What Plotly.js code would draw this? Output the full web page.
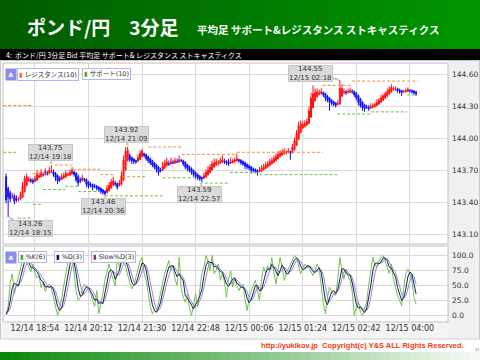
<!DOCTYPE html>
<html>
<head>
<meta charset="utf-8">
<script src="https://cdn.plot.ly/plotly-3.0.1.min.js"></script>
<style>html,body{margin:0;padding:0;background:#fff;}#chart{width:480px;height:360px;}</style>
</head>
<body>
<div id="chart"></div>
<script>
// ---------------- data ----------------
const barStart = '2009-12-14 18:12';   // first 3-minute bar
const barStepMinutes = 3;
const haOpenFirst = 143.64;

// Heikin-Ashi close of each bar
const haClose = [
143.42,143.45,143.43,143.46,143.41,143.42,143.43,143.47,143.55,143.62,
143.64,143.62,143.60,143.59,143.62,143.66,143.65,143.68,143.66,143.69,
143.67,143.70,143.69,143.66,143.63,143.60,143.61,143.64,143.65,143.67,
143.66,143.68,143.70,143.66,143.61,143.58,143.60,143.63,143.61,143.57,
143.55,143.56,143.54,143.55,143.53,143.52,143.50,143.49,143.48,143.53,
143.56,143.59,143.60,143.57,143.54,143.58,143.65,143.80,143.88,143.89,
143.80,143.79,143.78,143.78,143.82,143.86,143.88,143.84,143.81,143.79,
143.77,143.75,143.73,143.71,143.68,143.70,143.74,143.77,143.78,143.76,
143.78,143.77,143.79,143.78,143.80,143.79,143.76,143.73,143.72,143.70,
143.68,143.66,143.64,143.63,143.62,143.62,143.65,143.68,143.70,143.73,
143.76,143.77,143.78,143.77,143.79,143.80,143.78,143.77,143.76,143.78,
143.79,143.80,143.81,143.79,143.77,143.76,143.74,143.73,143.72,143.70,
143.70,143.69,143.68,143.70,143.72,143.73,143.75,143.76,143.78,143.79,
143.81,143.83,143.85,143.86,143.87,143.88,143.87,143.88,143.86,143.92,
143.98,144.05,144.12,144.14,144.13,144.14,144.16,144.26,144.38,144.42,
144.43,144.44,144.43,144.44,144.41,144.38,144.36,144.34,144.33,144.32,
144.31,144.33,144.47,144.47,144.44,144.43,144.44,144.45,144.44,144.41,
144.38,144.34,144.31,144.29,144.28,144.29,144.28,144.30,144.31,144.32,
144.34,144.36,144.38,144.40,144.42,144.44,144.46,144.48,144.47,144.47,
144.45,144.44,144.43,144.44,144.45,144.46,144.45,144.44,144.43,144.42];

// upper / lower wick length of each bar, in pips (0.01)
const upWick = [
3,2,2,3,2,3,2,3,4,3, 3,2,2,2,3,4,3,3,2,3, 2,3,6,2,1,1,2,3,3,3,
2,3,3,1,1,2,2,3,1,1, 1,2,1,2,1,1,1,1,1,3, 3,3,4,2,1,3,4,4,4,3,
2,1,1,1,3,3,2,1,1,1, 1,1,1,1,1,2,4,3,4,3, 4,3,3,3,4,2,1,1,1,1,
1,1,1,1,1,1,3,3,4,3, 3,4,3,3,3,4,2,1,3,4, 2,2,5,1,1,1,1,1,1,1,
1,1,1,3,3,3,3,3,3,3, 3,3,3,3,3,3,2,3,1,3, 3,3,4,3,3,3,3,4,5,8,
4,3,3,3,1,1,1,1,1,1, 1,3,8,4,3,2,3,3,2,1, 1,1,1,1,1,2,2,3,2,2,
3,2,3,2,2,3,3,3,2,2, 1,1,1,2,2,2,1,1,1,1];
const dnWick = [
3,19,3,3,3,2,2,1,1,1, 1,1,2,2,1,1,1,1,2,1, 2,1,1,2,3,3,2,1,1,1,
1,1,1,2,2,3,2,1,2,3, 2,2,3,2,2,2,2,2,2,1, 1,1,1,2,2,1,1,1,1,1,
2,3,2,2,1,1,1,2,2,2, 2,2,2,3,3,2,1,1,1,2, 1,1,1,1,1,1,2,2,3,2,
2,2,2,2,2,3,1,1,1,1, 1,1,1,2,1,1,2,2,2,1, 1,1,1,2,2,2,3,2,2,3,
2,2,3,1,1,1,1,1,1,1, 1,1,1,1,1,1,2,1,6,1, 1,1,1,1,1,1,1,1,1,1,
1,1,1,1,2,3,2,8,2,2, 2,1,1,1,2,2,1,1,2,2, 2,3,2,3,3,1,2,1,1,1,
1,1,1,1,1,1,1,1,1,2, 2,2,3,1,1,1,2,2,2,2];

// Stochastic %K(6)
const stochK = [
2,15,55,69,36,50,60,78,92,98, 88,80,72,85,70,62,66,46,55,40,
48,52,45,30,15,0,10,28,47,70, 88,95,99,70,40,25,30,45,52,46,
40,36,25,15,41,3,20,36,60,72, 85,70,60,49,96,80,92,99,80,65,
55,44,50,63,75,90,96,70,58,35, 15,3,8,5,22,40,55,70,80,91,
75,82,60,50,96,45,30,22,35,12, 0,20,36,14,45,69,80,99,90,74,
99,69,75,85,58,70,55,30,60,74, 47,63,50,41,48,52,25,8,30,41,
50,58,40,25,60,80,70,82,75,96, 70,52,75,96,80,58,70,78,85,92,
99,95,80,69,78,85,82,80,72,66, 75,85,77,50,20,3,30,47,40,36,
33,60,96,75,60,77,65,58,40,0, 15,22,5,0,10,22,50,75,96,85,
80,90,96,99,91,80,69,85,60,47, 33,25,16,45,69,77,70,58,30,19];

// support / resistance (10) levels
const resStart = ['2009-12-14 18:08','2009-12-14 18:51','2009-12-14 19:23','2009-12-14 19:49','2009-12-14 20:29','2009-12-14 21:01','2009-12-14 21:39','2009-12-14 22:28','2009-12-14 23:48','2009-12-15 01:53','2009-12-15 02:36'];
const resEnd   = ['2009-12-14 18:50','2009-12-14 19:14','2009-12-14 19:49','2009-12-14 20:29','2009-12-14 20:51','2009-12-14 21:37','2009-12-14 22:28','2009-12-14 23:48','2009-12-15 01:53','2009-12-15 02:34','2009-12-15 04:12'];
const resLevel = [144.31,143.67,143.75,143.71,143.66,143.64,143.92,143.85,143.87,144.50,144.54];
const supStart = ['2009-12-14 18:08','2009-12-14 18:29','2009-12-14 18:51','2009-12-14 19:06','2009-12-14 19:38','2009-12-14 19:57','2009-12-14 20:36','2009-12-14 22:00','2009-12-14 22:54','2009-12-14 23:38','2009-12-15 00:21','2009-12-15 02:14','2009-12-15 03:03','2009-12-15 03:56'];
const supEnd   = ['2009-12-14 18:29','2009-12-14 18:51','2009-12-14 19:06','2009-12-14 19:38','2009-12-14 19:57','2009-12-14 20:29','2009-12-14 22:00','2009-12-14 22:48','2009-12-14 23:38','2009-12-15 00:19','2009-12-15 02:14','2009-12-15 03:03','2009-12-15 03:56','2009-12-15 04:10'];
const supLevel = [143.87,143.25,143.38,143.52,143.55,143.50,143.46,143.63,143.58,143.68,143.66,144.23,144.25,144.41];

// high / low call-outs
const noteTimes  = ['2009-12-14 18:15','2009-12-14 19:18','2009-12-14 20:36','2009-12-14 21:09','2009-12-14 22:57','2009-12-15 02:18'];
const notePrices = [143.26,143.75,143.46,143.92,143.59,144.55];
const noteLabels = ['12/14 18:15','12/14 19:18','12/14 20:36','12/14 21:09','12/14 22:57','12/15 02:18'];

// axes
const timeTicks  = ['2009-12-14 18:54','2009-12-14 20:12','2009-12-14 21:30','2009-12-14 22:48','2009-12-15 00:06','2009-12-15 01:24','2009-12-15 02:42','2009-12-15 04:00'];
const timeLabels = ['12/14 18:54','12/14 20:12','12/14 21:30','12/14 22:48','12/15 00:06','12/15 01:24','12/15 02:42','12/15 04:00'];
const priceTicks = [143.10,143.40,143.70,144.00,144.30,144.60];
const stochTicks = [0,25,50,75,100];

// ---------------- build ----------------
const W = 480, H = 360;
const PX = x => x / W, PY = y => 1 - y / H;
const base = Date.parse(barStart.replace(' ', 'T') + ':00Z');
const barTime = i => new Date(base + i * barStepMinutes * 60000).toISOString().slice(0, 16).replace('T', ' ');

const times = haClose.map((_, i) => barTime(i));
const haOpen = [];
haClose.forEach((c, i) => { haOpen.push(i === 0 ? haOpenFirst : (haOpen[i-1] + haClose[i-1]) / 2); });
const haHigh = haClose.map((c, i) => Math.max(c, haOpen[i]) + upWick[i] / 100);
const haLow  = haClose.map((c, i) => Math.min(c, haOpen[i]) - dnWick[i] / 100);

const sma3 = a => a.map((v, i) => { const s = a.slice(Math.max(0, i-2), i+1); return s.reduce((p, q) => p + q, 0) / s.length; });
const stochD = sma3(stochK);
const stochSD = sma3(stochD);

function segments(st, en, lv) {
  const x = [], y = [];
  st.forEach((s, k) => { x.push(s, en[k], null); y.push(lv[k], lv[k], null); });
  return {x, y};
}
const res = segments(resStart, resEnd, resLevel);
const sup = segments(supStart, supEnd, supLevel);

const FONT = 'DejaVu Sans, Noto Sans CJK JP, sans-serif';
const JP = 'Noto Sans CJK JP, sans-serif';

const traces = [
  {type:'scatter', mode:'lines', x:res.x, y:res.y, xaxis:'x', yaxis:'y', line:{color:'#f58a3c', width:1, dash:'3px,2px'}, hoverinfo:'skip', connectgaps:false},
  {type:'scatter', mode:'lines', x:sup.x, y:sup.y, xaxis:'x', yaxis:'y', line:{color:'#6cbf4a', width:1, dash:'3px,2px'}, hoverinfo:'skip', connectgaps:false},
  {type:'candlestick', x:times, open:haOpen, high:haHigh, low:haLow, close:haClose, xaxis:'x', yaxis:'y',
   increasing:{line:{color:'#ff1010', width:1}, fillcolor:'#ff1010'},
   decreasing:{line:{color:'#1010ff', width:1}, fillcolor:'#1010ff'},
   whiskerwidth:0, hoverinfo:'skip'},
  {type:'scatter', mode:'lines', x:times, y:stochK, xaxis:'x2', yaxis:'y2', line:{color:'#72c24e', width:1}, hoverinfo:'skip'},
  {type:'scatter', mode:'lines', x:times, y:stochSD, xaxis:'x2', yaxis:'y2', line:{color:'#9a84d6', width:1}, hoverinfo:'skip'},
  {type:'scatter', mode:'lines', x:times, y:stochD, xaxis:'x2', yaxis:'y2', line:{color:'#1c1c5e', width:1}, hoverinfo:'skip'}
];

const shapes = [];
// header gradient
for (let k = 0; k < 48; k++) {
  const f = k / 47;
  const g = Math.round(92 + (150 - 92) * f);
  shapes.push({type:'rect', xref:'paper', yref:'paper', x0:PX(k*10), x1:PX(k*10+10.5), y0:PY(49), y1:PY(0), fillcolor:`rgb(0,${g},0)`, line:{width:0}, layer:'below'});
}
shapes.push({type:'rect', xref:'paper', yref:'paper', x0:0, x1:1, y0:PY(60), y1:PY(49), fillcolor:'#000', line:{width:0}, layer:'below'});
// chart frame and bands
shapes.push({type:'rect', xref:'paper', yref:'paper', x0:PX(0.5), x1:PX(479.5), y0:PY(339), y1:PY(60.5), fillcolor:'#ffffff', line:{color:'#c8c8c8', width:1}, layer:'below'});
shapes.push({type:'rect', xref:'paper', yref:'paper', x0:PX(448), x1:PX(479), y0:PY(338), y1:PY(61), fillcolor:'#f0f0f0', line:{width:0}, layer:'below'});
shapes.push({type:'rect', xref:'paper', yref:'paper', x0:PX(1), x1:PX(448), y0:PY(338), y1:PY(323), fillcolor:'#f4f4f4', line:{width:0}, layer:'below'});
shapes.push({type:'rect', xref:'paper', yref:'paper', x0:PX(3), x1:PX(448), y0:PY(244), y1:PY(63), fillcolor:'rgba(0,0,0,0)', line:{color:'#bdbdbd', width:1}, layer:'below'});
shapes.push({type:'rect', xref:'paper', yref:'paper', x0:PX(3), x1:PX(448), y0:PY(322), y1:PY(246), fillcolor:'rgba(0,0,0,0)', line:{color:'#bdbdbd', width:1}, layer:'below'});
// footer gradient bar
for (let k = 0; k < 48; k++) {
  const f = k / 47;
  const r = Math.round(10 + (245 - 10) * f), g = Math.round(135 + (250 - 135) * f), b = Math.round(10 + (245 - 10) * f);
  shapes.push({type:'rect', xref:'paper', yref:'paper', x0:PX(k*10), x1:PX(k*10+10.5), y0:PY(360), y1:PY(352), fillcolor:`rgb(${r},${g},${b})`, line:{width:0}, layer:'below'});
}

const ann = [];
const txt = (x, y, text, size, color, family, xanchor) => ann.push({xref:'paper', yref:'paper', x:PX(x), y:PY(y), text, showarrow:false, xanchor:xanchor||'left', yanchor:'middle', font:{size, color, family}});
txt(25, 27, '<b>ポンド/円　3分足</b>', 19, '#ffffff', JP);
txt(195, 29.5, '<b>平均足 サポート&amp;レジスタンス ストキャスティクス</b>', 10.5, '#ffffff', JP);
txt(4, 54.5, '4:\u00a0\u00a0ポンド/円 3分足 Bid 平均足 サポート&amp; レジスタンス ストキャスティクス', 7, '#ffffff', JP);
txt(259, 345.5, '<b>http://yukikov.jp\u00a0\u00a0Copyright(c) Y&amp;S ALL Rights Reserved.</b>', 7.5, '#ee3a0e', 'Liberation Sans, Arial, sans-serif');
txt(476.5, 350, '17', 3.5, '#333', FONT, 'center');

// legend chips
const chipA = y => ann.push({xref:'paper', yref:'paper', x:PX(11), y:PY(y), text:'<b>A</b>', showarrow:false, xanchor:'center', yanchor:'middle', width:8, height:9, bgcolor:'#8c8ce8', font:{size:6, color:'#fff', family:FONT}});
const chip = (x, y, color, label) => ann.push({xref:'paper', yref:'paper', x:PX(x), y:PY(y), text:`<span style="color:${color}">▮</span> ${label}`, showarrow:false, xanchor:'left', yanchor:'middle', bgcolor:'rgba(255,255,255,0.9)', bordercolor:'#b6b6e6', borderwidth:1, borderpad:1, font:{size:6.5, color:'#333', family:FONT}});
chipA(74.5);
chip(17, 74.5, '#f07020', 'レジスタンス(10)');
chip(82, 74.5, '#40a820', 'サポート(10)');
chipA(257);
chip(18, 257, '#40a820', '%K(6)');
chip(54, 257, '#000066', '%D(3)');
chip(91, 257, '#7a3460', 'Slow%D(3)');

// high / low call-outs
const noteAx = [22, -1, -1, -1, -2, -29];
const noteAy = [11, -13, 11, -12.5, 12.5, -7];
noteTimes.forEach((t, k) => ann.push({
  xref:'x', yref:'y', x:t, y:notePrices[k], text:notePrices[k].toFixed(2) + '<br>' + noteLabels[k],
  showarrow:true, arrowhead:0, arrowwidth:2, arrowcolor:'#c6c6c6', ax:noteAx[k], ay:noteAy[k], standoff:1,
  bgcolor:'#dadada', bordercolor:'#c6c6c6', borderwidth:1, borderpad:0, height:15,
  font:{size:7, color:'#333', family:FONT}
}));

const grid = '#dadada';
const layout = {
  width:W, height:H, margin:{l:0, r:0, t:0, b:0},
  paper_bgcolor:'#ffffff', plot_bgcolor:'rgba(0,0,0,0)', showlegend:false,
  font:{family:FONT, color:'#333'},
  xaxis:{domain:[PX(3), PX(448)], anchor:'y', type:'date', range:['2009-12-14 18:07:30','2009-12-15 04:55:30'],
         tickvals:timeTicks, ticktext:timeLabels, showticklabels:false, showgrid:true, gridcolor:grid, gridwidth:1,
         zeroline:false, showline:false, ticks:'', rangeslider:{visible:false}, fixedrange:true},
  xaxis2:{domain:[PX(3), PX(448)], anchor:'y2', type:'date', matches:'x', range:['2009-12-14 18:07:30','2009-12-15 04:55:30'],
          tickvals:timeTicks, ticktext:timeLabels, showticklabels:true, tickfont:{size:8, color:'#333', family:FONT},
          showgrid:true, gridcolor:grid, gridwidth:1, zeroline:false, showline:false, ticks:'', fixedrange:true},
  yaxis:{domain:[PY(244), PY(63)], anchor:'x', side:'right', range:[143.007, 144.71], tickvals:priceTicks, tickformat:'.2f',
         tickfont:{size:7.5, color:'#333', family:FONT}, showgrid:true, gridcolor:grid, zeroline:false, showline:false, ticks:'', ticklabelstandoff:3, fixedrange:true},
  yaxis2:{domain:[PY(322), PY(246)], anchor:'x2', side:'right', range:[-10.8, 114.9], tickvals:stochTicks, tickformat:'.1f',
          tickfont:{size:7.5, color:'#333', family:FONT}, showgrid:true, gridcolor:grid, zeroline:false, showline:false, ticks:'', ticklabelstandoff:3, fixedrange:true},
  shapes, annotations:ann
};
Plotly.newPlot('chart', traces, layout, {staticPlot:true, displayModeBar:false});
</script>
</body>
</html>
